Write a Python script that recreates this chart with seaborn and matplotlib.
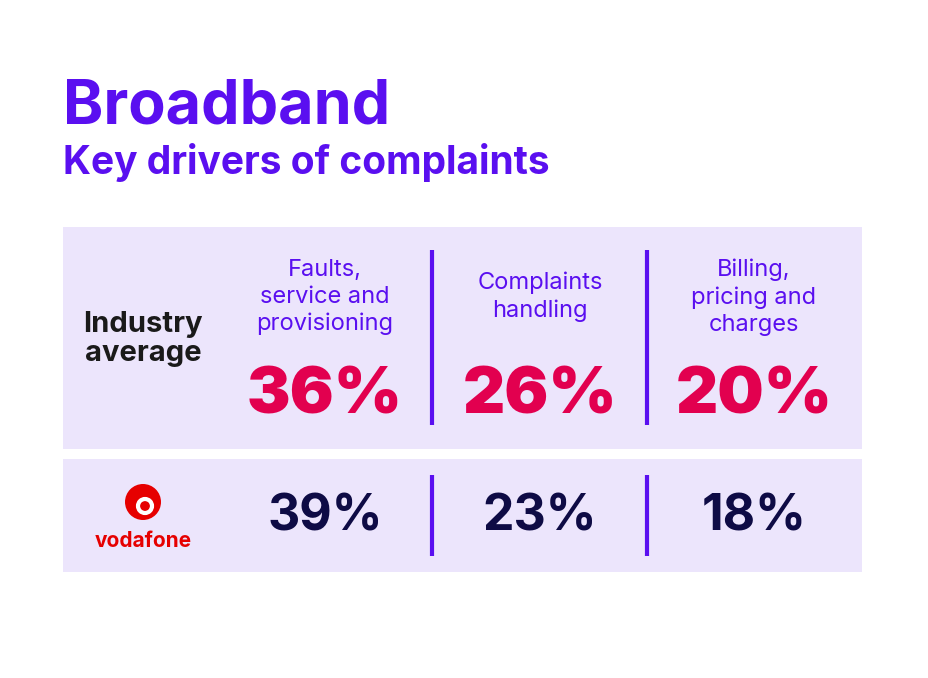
import matplotlib
matplotlib.use("Agg")
import matplotlib.pyplot as plt
import seaborn as sns
from matplotlib.patches import Rectangle, Circle

sns.set_theme(style="white", rc={"font.family": "Inter"})

categories = ["Faults,\nservice and\nprovisioning", "Complaints\nhandling", "Billing,\npricing and\ncharges"]
industry = [36, 26, 20]
vodafone = [39, 23, 18]

PURPLE = "#5a0ff0"
RED = "#e2004f"
NAVY = "#0e0b45"
PANEL = "#ece5fc"

fig = plt.figure(figsize=(9.29, 6.78), dpi=100)
ax = fig.add_axes([0, 0, 1, 1])
ax.set_xlim(0, 929)
ax.set_ylim(678, 0)
ax.axis("off")

ax.text(63, 107, "Broadband", color=PURPLE, fontsize=44, fontweight="bold", va="center", ha="left")
ax.text(63, 163, "Key drivers of complaints", color=PURPLE, fontsize=28, fontweight="bold", va="center", ha="left")

ax.add_patch(Rectangle((63, 227), 799, 222, color=PANEL, lw=0))
ax.add_patch(Rectangle((63, 459), 799, 113, color=PANEL, lw=0))

ax.text(143, 339, "Industry\naverage", color="#1a1a1a", fontsize=21, fontweight="bold",
        ha="center", va="center", linespacing=1.1)

centers = [325, 540, 754]
for i, (cat, a, v) in enumerate(zip(categories, industry, vodafone)):
    x = centers[i]
    ax.text(x, 297, cat, color=PURPLE, fontsize=17, ha="center", va="center", linespacing=1.3)
    ax.text(x, 396, f"{a}%", color=RED, fontsize=47, fontweight="black", ha="center", va="center")
    ax.text(x, 517, f"{v}%", color=NAVY, fontsize=36, fontweight="bold", ha="center", va="center")

for xd in [432, 647]:
    ax.plot([xd, xd], [250, 425], color=PURPLE, lw=3, solid_capstyle="butt")
    ax.plot([xd, xd], [475, 556], color=PURPLE, lw=3, solid_capstyle="butt")

# vodafone logo
ax.add_patch(Circle((143, 502), 18, color="#e60000", lw=0))
ax.add_patch(Circle((145, 506), 7, facecolor="none", edgecolor="white", lw=3))
ax.text(143, 541, "vodafone", color="#e60000", fontsize=15, fontweight="bold", ha="center", va="center")

fig.savefig("out.png", dpi=100, facecolor="white")
